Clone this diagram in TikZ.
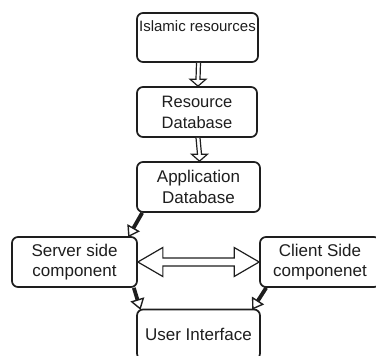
\documentclass[tikz,border=0pt]{standalone}
\usepackage{fontspec}
\setmainfont{Liberation Sans}
\usetikzlibrary{calc}
\definecolor{ink}{HTML}{1E1E1E}
\tikzset{
  box/.style={draw=ink, line width=1.7pt, rounded corners=6pt, fill=white,
    inner sep=0pt, align=center, text=ink, minimum height=50pt,
    font=\fontsize{17}{20.5}\selectfont},
  hollowarrow/.style={draw=ink, line width=1.2pt, fill=white, line join=miter},
  shaft/.style={draw=ink, line width=3.8pt},
  headtri/.style={draw=ink, line width=1.4pt, fill=white, line join=miter}
}
\newcommand\thickarr[2]{%
  \coordinate (ts) at #1; \coordinate (tt) at #2;
  \coordinate (tb) at ($(tt)!9pt!(ts)$);
  \draw[shaft] (ts) -- (tb);
  \draw[headtri] (tt) -- ($(tb)!6pt!90:(tt)$) -- ($(tb)!6pt!-90:(tt)$) -- cycle;}
\begin{document}
\begin{tikzpicture}[x=1pt, y=-1pt]
\useasboundingbox (0,0) rectangle (376,356);
\clip (0,0) rectangle (376,356);
\node[box, minimum width=121pt, minimum height=49pt,
  label={[anchor=north, yshift=-8pt, inner sep=0pt, text=ink,
  font=\fontsize{15}{18}\selectfont]north:Islamic resources}] (isl) at (197.5,37.5) {};
\node[box, minimum width=120pt, font=\fontsize{16.5}{21}\selectfont] (rdb) at (197,112) {Resource\\Database};
\node[box, minimum width=123pt] (adb) at (198.5,187) {Application\\Database};
\node[box, minimum width=125pt] (srv) at (74.5,262) {Server side\\component};
\node[box, minimum width=120pt] (cli) at (320,262) {Client Side\\componenet};
\node[box, minimum width=123pt] (ui) at (198.5,334.5) {User Interface};
% vertical hollow arrows
\draw[hollowarrow] ($(isl.south)+(-1,0)$) -- ($(rdb.north)+(-1,-7)$) -- ++(-6,0)
  -- ($(rdb.north)+(1,0)$) -- ($(rdb.north)+(9,-7)$) -- ++(-6,0) -- ($(isl.south)+(3,0)$);
\draw[hollowarrow] ($(rdb.south)+(-1,0)$) -- ($(adb.north)+(-1,-7)$) -- ++(-6,0)
  -- ($(adb.north)+(1,0)$) -- ($(adb.north)+(9,-7)$) -- ++(-6,0) -- ($(rdb.south)+(3,0)$);
% double hollow arrow
\draw[hollowarrow] (srv.east) -- ++(25,-14.5) -- ++(0,10.5) -- ($(cli.west)+(-25,-4)$)
  -- ++(0,-10.5) -- (cli.west) -- ++(-25,14.5) -- ++(0,-10.5) -- ($(srv.east)+(25,4)$)
  -- ++(0,10.5) -- cycle;
% thick arrows
\thickarr{($(adb.south west)+(6,0)$)}{($(srv.north east)+(-9,0)$)}
\thickarr{($(srv.south east)+(-4,0)$)}{($(ui.north west)+(4,0)$)}
\thickarr{($(cli.south west)+(7,0)$)}{($(ui.north east)+(-8,0)$)}
\end{tikzpicture}
\end{document}
